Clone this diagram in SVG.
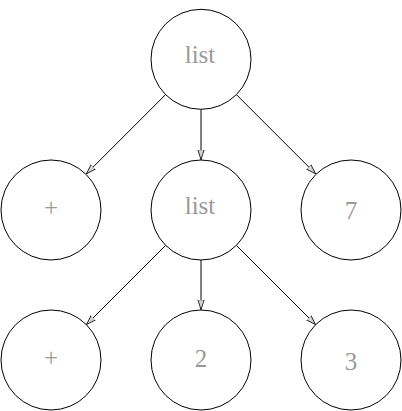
<svg xmlns="http://www.w3.org/2000/svg" width="402" height="411" viewBox="0 0 402 411">
<defs>
<style>
.n circle{fill:#fff;stroke:#000;stroke-width:1}
.n text{font-family:"Liberation Serif",serif;font-size:25px;fill:#999;text-anchor:middle}
.e line{stroke:#000;stroke-width:1;marker-end:url(#ah)}
</style>
<marker id="ah" markerWidth="10" markerHeight="8" refX="10" refY="4" orient="auto" markerUnits="userSpaceOnUse">
<path d="M0,0.8 L10,4 L0,7.2 Z" fill="#d3d3d3" stroke="#000" stroke-width="0.8"/>
</marker>
</defs>
<rect width="402" height="411" fill="#fff"/>
<g class="e">
<line x1="165.6" y1="94.6" x2="86.4" y2="173.8"/>
<line x1="201" y1="109.3" x2="201" y2="159.7"/>
<line x1="236.4" y1="94.6" x2="315.6" y2="173.8"/>
<line x1="165.6" y1="245.4" x2="86.4" y2="324.6"/>
<line x1="201" y1="260" x2="201" y2="309.7"/>
<line x1="236.4" y1="245.4" x2="315.6" y2="324.6"/>
</g>
<g id="n0" class="n"><circle cx="201" cy="59.3" r="50"/><text x="200" y="63">list</text></g>
<g id="n1" class="n"><circle cx="51" cy="210" r="50"/><text x="51" y="216">+</text></g>
<g id="n2" class="n"><circle cx="201" cy="210" r="50"/><text x="200" y="213.5">list</text></g>
<g id="n3" class="n"><circle cx="351" cy="210" r="50"/><text x="351" y="219">7</text></g>
<g id="n4" class="n"><circle cx="51" cy="360" r="50"/><text x="51" y="366">+</text></g>
<g id="n5" class="n"><circle cx="201" cy="360" r="50"/><text x="201" y="367">2</text></g>
<g id="n6" class="n"><circle cx="351" cy="360" r="50"/><text x="351" y="370">3</text></g>
</svg>
